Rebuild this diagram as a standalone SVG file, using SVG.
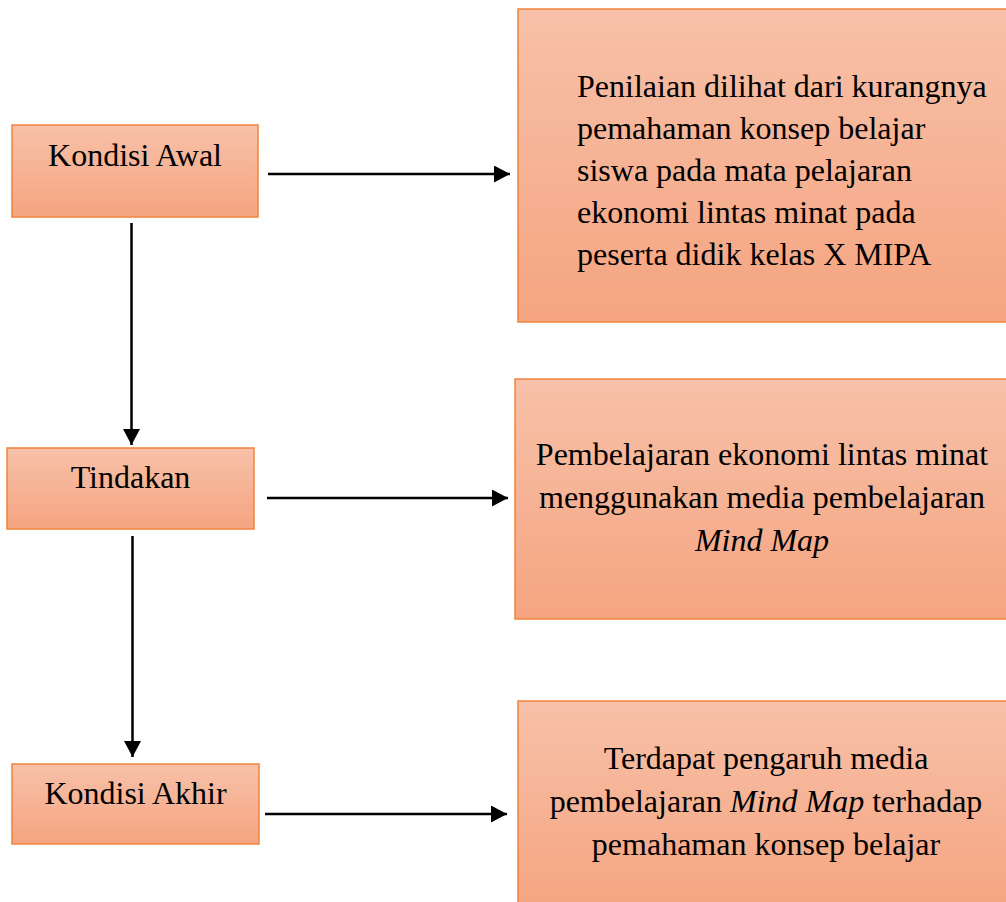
<svg xmlns="http://www.w3.org/2000/svg" width="1006" height="902" viewBox="0 0 1006 902">
<style>
.box{fill:url(#g);stroke:#F0843F;stroke-width:1.5}
.t{font-family:"Liberation Serif","Times New Roman",serif;font-size:32px;fill:#000}
.c{text-anchor:middle}
.con{stroke:#000;stroke-width:2.5;fill:none;marker-end:url(#ah)}
</style>
<defs>
<linearGradient id="g" x1="0" y1="0" x2="0" y2="1">
<stop offset="0" stop-color="#F7C1A9"/>
<stop offset="1" stop-color="#F5A480"/>
</linearGradient>
<marker id="ah" markerUnits="userSpaceOnUse" markerWidth="17" markerHeight="17" refX="16" refY="8.5" orient="auto">
<path d="M0,0 L16,8.5 L0,17 z" fill="#000"/>
</marker>
</defs>
<rect width="1006" height="902" fill="#fff"/>
<g id="kondisi-awal">
<rect class="box" x="12" y="125" width="246" height="92"/>
<text class="t c" x="135" y="166">Kondisi Awal</text>
</g>
<g id="tindakan">
<rect class="box" x="7" y="448" width="247" height="81"/>
<text class="t c" x="130.5" y="488">Tindakan</text>
</g>
<g id="kondisi-akhir">
<rect class="box" x="12" y="764" width="247" height="80"/>
<text class="t c" x="135.5" y="804">Kondisi Akhir</text>
</g>
<g id="penilaian">
<rect class="box" x="518" y="9" width="492" height="313"/>
<text class="t" x="577" y="97">Penilaian dilihat dari kurangnya</text>
<text class="t" x="577" y="139">pemahaman konsep belajar</text>
<text class="t" x="577" y="181">siswa pada mata pelajaran</text>
<text class="t" x="577" y="223">ekonomi lintas minat pada</text>
<text class="t" x="577" y="265">peserta didik kelas X MIPA</text>
</g>
<g id="pembelajaran">
<rect class="box" x="515" y="379" width="495" height="240"/>
<text class="t c" x="762" y="465">Pembelajaran ekonomi lintas minat</text>
<text class="t c" x="762" y="508">menggunakan media pembelajaran</text>
<text class="t c" x="762" y="551"><tspan font-style="italic">Mind Map</tspan></text>
</g>
<g id="pengaruh">
<rect class="box" x="518" y="701" width="492" height="210"/>
<text class="t c" x="766" y="769">Terdapat pengaruh media</text>
<text class="t c" x="766" y="812">pembelajaran <tspan font-style="italic">Mind Map</tspan> terhadap</text>
<text class="t c" x="766" y="855">pemahaman konsep belajar</text>
</g>
<g id="connectors">
<line class="con" x1="268" y1="174" x2="510" y2="174"/>
<line class="con" x1="267" y1="498" x2="508" y2="498"/>
<line class="con" x1="265" y1="814" x2="507" y2="814"/>
<line class="con" x1="131.5" y1="223" x2="131.5" y2="445"/>
<line class="con" x1="132.5" y1="536" x2="132.5" y2="757"/>
</g>
</svg>
